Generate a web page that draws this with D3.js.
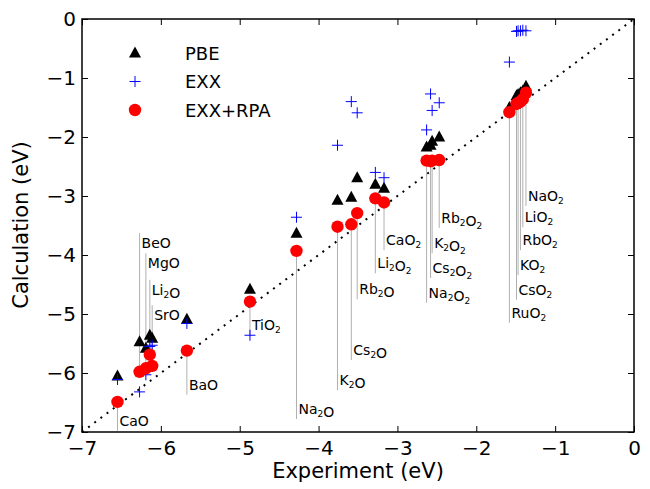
<!DOCTYPE html>
<html>
<head>
<meta charset="utf-8">
<script src="https://cdn.jsdelivr.net/npm/d3@7"></script>
<style>
body { margin: 0; background: #fff; }
text { font-family: "DejaVu Sans", sans-serif; }
</style>
</head>
<body>
<svg id="chart" width="650" height="489"></svg>
<script>
// compounds, experimental and calculated formation energies (eV)
var compounds = ["CaO", "BeO", "MgO", "Li2O", "SrO", "BaO", "TiO2", "Na2O", "K2O", "Cs2O", "Rb2O",
    "Li2O2", "CaO2", "Na2O2", "Cs2O2", "K2O2", "Rb2O2", "RuO2", "CsO2", "KO2", "RbO2", "LiO2", "NaO2"];
var experiment = [-6.55, -6.27, -6.19, -6.14, -6.11, -5.67, -4.87, -4.28, -3.76, -3.585, -3.51,
    -3.28, -3.17, -2.63, -2.58, -2.56, -2.47, -1.58, -1.49, -1.47, -1.44, -1.41, -1.37];
var pbe = [-6.05, -5.47, -5.58, -5.36, -5.41, -5.09, -4.58, -3.63, -3.07, -3.02, -2.69,
    -2.80, -2.87, -2.17, -2.14, -2.07, -2.00, -1.50, -1.30, -1.28, -1.25, -1.22, -1.14];
var exx = [-6.11, -6.32, -6.03, -5.55, -5.53, -5.16, -5.36, -3.36, -2.14, -1.40, -1.59,
    -2.60, -2.69, -1.88, -1.27, -1.55, -1.42, -0.73, -0.21, -0.20, -0.20, -0.19, -0.20];
var rpa = [-6.49, -5.98, -5.92, -5.69, -5.88, -5.62, -4.79, -3.93, -3.52, -3.48, -3.29,
    -3.04, -3.11, -2.40, -2.41, -2.40, -2.39, -1.58, -1.44, -1.42, -1.40, -1.36, -1.25];
// where each name tag sits on the calculation axis (eV)
var labelAt = [-6.81, -3.80, -4.14, -4.59, -5.02, -6.20, -5.19, -6.61, -6.12, -5.61, -4.58,
    -4.14, -3.75, -4.64, -4.22, -3.80, -3.37, -4.98, -4.59, -4.17, -3.75, -3.36, -3.00];
var ticks = [-7, -6, -5, -4, -3, -2, -1, 0];
var seriesNames = ["PBE", "EXX", "EXX+RPA"];

var svg = d3.select('#chart');
var x = d3.scaleLinear().domain([-7, 0]).range([82, 634]);
var y = d3.scaleLinear().domain([-7, 0]).range([432, 19]);

var rows = compounds.map(function (c, i) {
    return {name: c, exp: experiment[i], pbe: pbe[i], exx: exx[i], rpa: rpa[i], lab: labelAt[i]};
});

// diagonal y = x
svg.append('line')
    .attr('x1', x(-7)).attr('y1', y(-7))
    .attr('x2', x(0)).attr('y2', y(0))
    .attr('stroke', '#000')
    .attr('stroke-width', 2)
    .attr('stroke-dasharray', '2,5.7');

// annotation lines + tags
var ann = svg.append('g');
rows.forEach(function (d) {
    var py = y(d.rpa), ly = y(d.lab);
    var end = ly > py ? ly + 10 : ly - 10;
    ann.append('line')
        .attr('x1', x(d.exp)).attr('x2', x(d.exp))
        .attr('y1', py).attr('y2', end)
        .attr('stroke', '#b0b0b0')
        .attr('stroke-width', 1);
    var t = ann.append('text')
        .attr('x', x(d.exp) + 2)
        .attr('y', ly + 5)
        .attr('font-size', 14);
    d.name.match(/[A-Z][a-z]?|\d/g).forEach(function (s) {
        if (/\d/.test(s)) {
            t.append('tspan').attr('font-size', 9).attr('dy', 3).text(s);
            t.append('tspan').attr('dy', -3).attr('dx', 2).text('');
        } else {
            t.append('tspan').text(s);
        }
    });
});

function triangle(g) {
    g.append('path')
        .attr('d', 'M0,-6.5L6,4.5L-6,4.5Z')
        .attr('fill', '#000');
}
function plus(g) {
    g.append('path')
        .attr('d', 'M-5.5,0H5.5M0,-5.5V5.5')
        .attr('stroke', '#0000ff')
        .attr('stroke-width', 1);
}
function dot(g) {
    g.append('circle').attr('r', 6.2).attr('fill', '#ff0000');
}
var shapes = [triangle, plus, dot];
var keys = ['pbe', 'exx', 'rpa'];

keys.forEach(function (k, j) {
    svg.append('g').selectAll('g').data(rows).enter().append('g')
        .attr('transform', function (d) {
            return 'translate(' + x(d.exp) + ',' + y(d[k]) + ')';
        })
        .each(function () { shapes[j](d3.select(this)); });
});

// frame and axes
var fmt = d3.format('d');
var gx = svg.append('g').attr('transform', 'translate(0,432)')
    .call(d3.axisBottom(x).tickValues(ticks).tickFormat(fmt).tickSizeInner(-6).tickSizeOuter(0).tickPadding(9));
var gy = svg.append('g').attr('transform', 'translate(82,0)')
    .call(d3.axisLeft(y).tickValues(ticks).tickFormat(fmt).tickSizeInner(-6).tickSizeOuter(0).tickPadding(6));
var gt = svg.append('g').attr('transform', 'translate(0,19)')
    .call(d3.axisTop(x).tickValues(ticks).tickFormat('').tickSizeInner(-6).tickSizeOuter(0));
var gr = svg.append('g').attr('transform', 'translate(634,0)')
    .call(d3.axisRight(y).tickValues(ticks).tickFormat('').tickSizeInner(-6).tickSizeOuter(0));
[gx, gy, gt, gr].forEach(function (g) {
    g.select('.domain').remove();
    g.selectAll('.tick line').attr('stroke', '#000').attr('stroke-width', 1);
    g.selectAll('.tick text')
        .attr('font-size', 20)
        .attr('font-family', '"DejaVu Sans", sans-serif')
        .attr('fill', '#000');
});

svg.append('rect')
    .attr('x', 82).attr('y', 19)
    .attr('width', 552).attr('height', 413)
    .attr('fill', 'none')
    .attr('stroke', '#000')
    .attr('stroke-width', 1.5);

svg.append('text')
    .attr('x', 358).attr('y', 478)
    .attr('text-anchor', 'middle')
    .attr('font-size', 21)
    .text('Experiment (eV)');
svg.append('text')
    .attr('transform', 'translate(28,225) rotate(-90)')
    .attr('text-anchor', 'middle')
    .attr('font-size', 21)
    .text('Calculation (eV)');

// legend
var leg = svg.append('g');
seriesNames.forEach(function (n, i) {
    var g = leg.append('g').attr('transform', 'translate(135,' + (53 + i * 28.5) + ')');
    shapes[i](g);
    leg.append('text')
        .attr('x', 185).attr('y', 53 + i * 28.5 + 6.5)
        .attr('font-size', 18)
        .text(n);
});
</script>
</body>
</html>
